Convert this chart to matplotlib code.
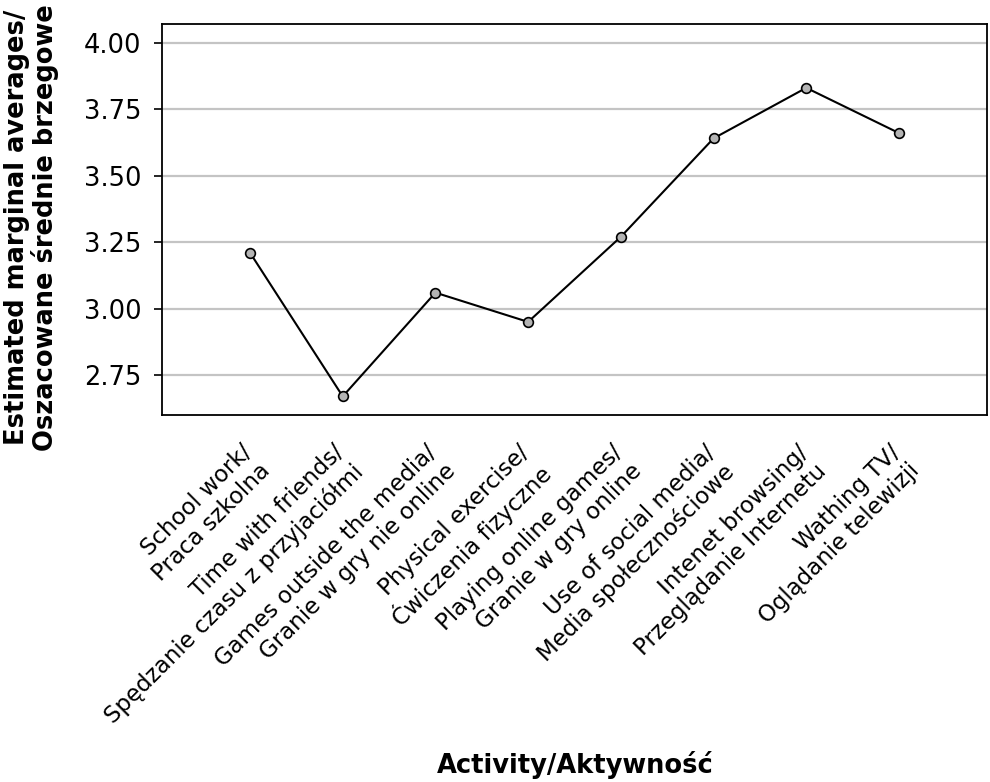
import numpy as np
import matplotlib
matplotlib.use("Agg")
import matplotlib.pyplot as plt
import matplotlib.transforms as mtransforms

plt.rcParams['font.family'] = ['DejaVu Sans']

activities = [
    "School work/\nPraca szkolna",
    "Time with friends/\nSpędzanie czasu z przyjaciółmi",
    "Games outside the media/\nGranie w gry nie online",
    "Physical exercise/\nĆwiczenia fizyczne",
    "Playing online games/\nGranie w gry online",
    "Use of social media/\nMedia społecznościowe",
    "Intenet browsing/\nPrzeglądanie Internetu",
    "Wathing TV/\nOglądanie telewizji",
]
marginal_means = [3.21, 2.67, 3.06, 2.95, 3.27, 3.64, 3.83, 3.66]
y_ticks = [2.75, 3.00, 3.25, 3.50, 3.75, 4.00]

fig = plt.figure(figsize=(9.9, 7.82), dpi=100)
ax = fig.add_axes([0.1636, 0.4693, 0.8334, 0.5])

x = np.arange(len(activities))
ax.plot(x, marginal_means, "-", color="black", linewidth=1.5, zorder=3)
ax.plot(x, marginal_means, "o", markersize=7, markerfacecolor="#b4b4b4",
        markeredgecolor="black", markeredgewidth=1.2, zorder=4)

ax.set_xlim(-0.95, 7.95)
ax.set_ylim(2.60, 4.07)
ax.set_yticks(y_ticks)
ax.set_yticklabels(["%.2f" % v for v in y_ticks], fontsize=18.5)
ax.yaxis.grid(True, color="#c4c4c4", linewidth=1.6)
ax.set_axisbelow(True)
ax.tick_params(axis="y", length=6, width=1.2, pad=9)

ax.set_xticks(x)
ax.set_xticklabels(activities, rotation=45, ha="right", rotation_mode="anchor",
                   fontsize=16.5, multialignment="right", linespacing=1.2)
ax.tick_params(axis="x", length=0, pad=14)

#nudge the rotated labels a little left/down
shift = mtransforms.ScaledTranslation(-10 / 100, -6 / 100, fig.dpi_scale_trans)
for lbl in ax.get_xticklabels():
    lbl.set_transform(lbl.get_transform() + shift)

for s in ax.spines.values():
    s.set_linewidth(1.3)

ax.set_ylabel("Estimated marginal averages/\nOszacowane średnie brzegowe",
              fontsize=18.5, fontweight="bold", linespacing=1.05)
ax.yaxis.set_label_coords(-0.125, 0.48)
fig.text(0.581, 0.022, "Activity/Aktywność", fontsize=18.5, fontweight="bold",
         ha="center", va="center")

fig.savefig("out.png", dpi=100)
